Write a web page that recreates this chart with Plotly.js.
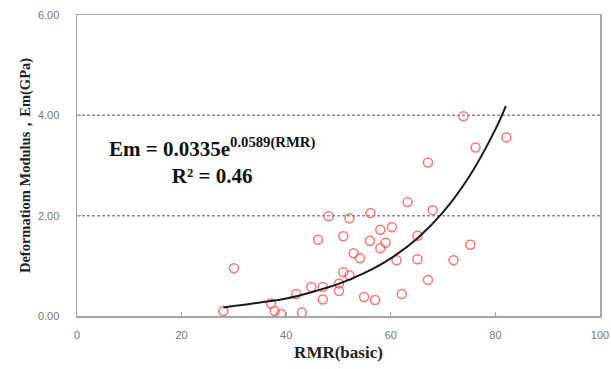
<!DOCTYPE html>
<html>
<head>
<meta charset="utf-8">
<script src="https://cdn.plot.ly/plotly-3.0.1.min.js"></script>
<style>html,body{margin:0;padding:0;background:#fff;}#chart{width:611px;height:369px;}</style>
</head>
<body>
<div id="chart"></div>
<script>
const rmr = [28, 30, 37.1, 37.8, 39, 43, 41.9, 44.8, 47, 47, 46.1, 48.1, 50.1, 50.1, 50.9, 52.1, 50.9, 52.1, 52.9, 54.1, 54.9, 57, 56, 56.1, 58, 58, 59, 60.2, 61.1, 62.1, 63.2, 65.1, 65.1, 67.1, 67.1, 68, 72, 73.9, 75.2, 76.2, 82.1];
const em  = [0.10, 0.95, 0.25, 0.10, 0.04, 0.07, 0.44, 0.58, 0.58, 0.33, 1.52, 1.99, 0.65, 0.50, 0.87, 0.81, 1.59, 1.95, 1.25, 1.15, 0.38, 0.32, 1.50, 2.05, 1.35, 1.72, 1.46, 1.77, 1.11, 0.44, 2.27, 1.60, 1.13, 0.72, 3.06, 2.11, 1.11, 3.98, 1.42, 3.36, 3.56];

// Trend curve points
const trendX = [28, 35, 40, 45, 50, 55, 60, 65, 70, 75, 80, 82];
const trendY = [0.17, 0.27, 0.35, 0.48, 0.64, 0.86, 1.15, 1.54, 2.07, 2.78, 3.72, 4.19];

const xTicks = [0, 20, 40, 60, 80, 100];
const yTicks = [0, 2, 4, 6];
const yTickText = ['0.00', '2.00', '4.00', '6.00'];

const eqText = '<b>Em = 0.0335e<sup>0.0589(RMR)</sup></b><br><b>R² = 0.46</b>';
const xTitle = '<b>RMR(basic)</b>';
const yTitle = '<b>Deformatiom Modulus，Em(GPa)</b>';

const traces = [
  {
    x: rmr, y: em, type: 'scatter', mode: 'markers',
    marker: {symbol: 'circle-open', size: 9, color: 'rgba(255,90,90,0.85)', line: {width: 1.5, color: 'rgba(255,90,90,0.85)'}},
    hoverinfo: 'skip', showlegend: false
  },
  {
    x: trendX, y: trendY, type: 'scatter', mode: 'lines',
    line: {color: '#1a1a1a', width: 2, shape: 'spline', smoothing: 1},
    hoverinfo: 'skip', showlegend: false
  }
];

const layout = {
  width: 611, height: 369,
  margin: {l: 77, r: 11, t: 15, b: 53},
  paper_bgcolor: '#ffffff', plot_bgcolor: '#ffffff',
  font: {family: 'Liberation Sans, Arial, sans-serif', size: 11, color: '#666'},
  xaxis: {
    range: [0, 100], tickvals: xTicks, ticktext: xTicks.map(String),
    showgrid: false, zeroline: false,
    showline: true, mirror: true, linecolor: '#a6a6a6', linewidth: 1.5,
    ticks: 'inside', ticklen: 4, tickcolor: '#a6a6a6', tickwidth: 1,
    ticklabelstandoff: 8,
    tickfont: {family: 'Liberation Sans, Arial, sans-serif', size: 11, color: '#777'},
    title: {text: xTitle, font: {family: 'Liberation Serif, Times New Roman, serif', size: 17, color: '#222'}, standoff: 6}
  },
  yaxis: {
    range: [0, 6], tickvals: yTicks, ticktext: yTickText,
    showgrid: false, zeroline: false,
    showline: true, mirror: true, linecolor: '#a6a6a6', linewidth: 1.5,
    ticks: 'inside', ticklen: 4, tickcolor: '#a6a6a6', tickwidth: 1,
    ticklabelstandoff: 14,
    tickfont: {family: 'Liberation Sans, Arial, sans-serif', size: 11, color: '#777'},
    title: {text: yTitle, font: {family: 'Liberation Serif, Times New Roman, serif', size: 14.5, color: '#222'}, standoff: 4}
  },
  shapes: [2, 4].map(v => ({
    type: 'line', xref: 'paper', x0: 0, x1: 1, yref: 'y', y0: v, y1: v,
    line: {color: '#8c8c8c', width: 1.5, dash: '3px,2px'}, layer: 'below'
  })),
  annotations: [{
    x: 25.8, y: 3.08, xref: 'x', yref: 'y', text: eqText, showarrow: false,
    align: 'center', xanchor: 'center', yanchor: 'middle',
    font: {family: 'Liberation Serif, Times New Roman, serif', size: 21, color: '#111'}
  }]
};

Plotly.newPlot('chart', traces, layout, {displayModeBar: false, staticPlot: true});
</script>
</body>
</html>
